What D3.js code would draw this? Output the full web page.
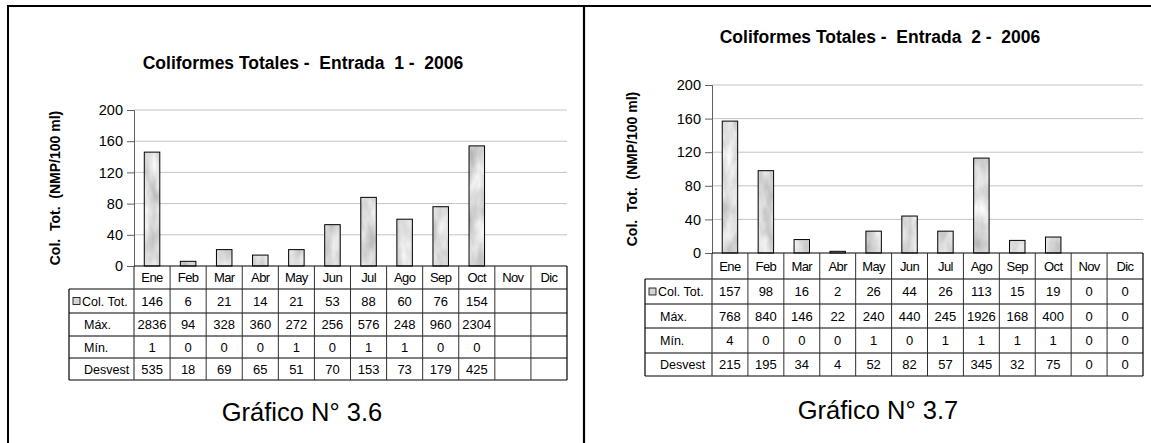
<!DOCTYPE html>
<html>
<head>
<meta charset="utf-8">
<script src="https://cdn.jsdelivr.net/npm/d3@7"></script>
<style>
  html, body { margin: 0; padding: 0; background: #fff; }
  svg { display: block; }
  text { font-family: "Liberation Sans", Arial, sans-serif; fill: #000; }
</style>
</head>
<body>
<svg id="chart" width="1151" height="443"></svg>
<script>
// ---------- DATA ----------
const months = ["Ene", "Feb", "Mar", "Abr", "May", "Jun", "Jul", "Ago", "Sep", "Oct", "Nov", "Dic"];
const yTicks = [0, 40, 80, 120, 160, 200];
const rowLabels = ["Col. Tot.", "Máx.", "Mín.", "Desvest"];
const yAxisTitle = "Col.  Tot.  (NMP/100 ml)";

const title1 = "Coliformes Totales -  Entrada  1 -  2006";
const caption1 = "Gráfico N° 3.6";
const colTot1 = [146, 6, 21, 14, 21, 53, 88, 60, 76, 154, null, null];
const max1 = [2836, 94, 328, 360, 272, 256, 576, 248, 960, 2304, null, null];
const min1 = [1, 0, 0, 0, 1, 0, 1, 1, 0, 0, null, null];
const desv1 = [535, 18, 69, 65, 51, 70, 153, 73, 179, 425, null, null];

const title2 = "Coliformes Totales -  Entrada  2 -  2006";
const caption2 = "Gráfico N° 3.7";
const colTot2 = [157, 98, 16, 2, 26, 44, 26, 113, 15, 19, 0, 0];
const max2 = [768, 840, 146, 22, 240, 440, 245, 1926, 168, 400, 0, 0];
const min2 = [4, 0, 0, 0, 1, 0, 1, 1, 1, 1, 0, 0];
const desv2 = [215, 195, 34, 4, 52, 82, 57, 345, 32, 75, 0, 0];

// ---------- DRAWING ----------
const svg = d3.select("#chart");
const defs = svg.append("defs");

// marbled grey texture for the bars
const f = defs.append("filter").attr("id", "marble")
  .attr("x", "0").attr("y", "0").attr("width", "1").attr("height", "1")
  .attr("color-interpolation-filters", "sRGB");
f.append("feTurbulence").attr("type", "fractalNoise")
  .attr("baseFrequency", "0.08 0.035").attr("numOctaves", 3).attr("seed", 4).attr("result", "noise");
f.append("feColorMatrix").attr("in", "noise").attr("type", "matrix")
  .attr("values", "0.35 0 0 0 0.68  0.35 0 0 0 0.68  0.35 0 0 0 0.68  0 0 0 0 1").attr("result", "grey");
f.append("feComposite").attr("in", "grey").attr("in2", "SourceGraphic").attr("operator", "in");

// outer frame
svg.append("line").attr("x1", 8).attr("x2", 1151).attr("y1", 6).attr("y2", 6)
  .attr("stroke", "#000").attr("stroke-width", 2);
svg.append("line").attr("x1", 8).attr("x2", 8).attr("y1", 5).attr("y2", 443)
  .attr("stroke", "#000").attr("stroke-width", 2);
svg.append("line").attr("x1", 584).attr("x2", 584).attr("y1", 5).attr("y2", 443)
  .attr("stroke", "#000").attr("stroke-width", 2.2);

function drawChart(cfg) {
  const g = svg.append("g");
  const x = d3.scaleBand().domain(months).range([cfg.axisX, cfg.rightX]).padding(0);
  const y = d3.scaleLinear().domain([0, 200]).range([cfg.y0, cfg.yTop]);
  const bw = x.bandwidth();

  // title
  g.append("text").attr("x", cfg.titleX).attr("y", cfg.titleY)
    .attr("text-anchor", "middle").attr("font-size", "17.5px").attr("font-weight", "bold")
    .style("white-space", "pre").text(cfg.title);

  // y-axis title
  g.append("text")
    .attr("transform", `translate(${cfg.yTitleX},${(cfg.y0 + cfg.yTop) / 2}) rotate(-90)`)
    .attr("text-anchor", "middle").attr("font-size", "14px").attr("font-weight", "bold")
    .style("white-space", "pre").text(yAxisTitle);

  // gridlines
  g.append("g").selectAll("line").data(yTicks.filter(d => d > 0)).join("line")
    .attr("x1", cfg.axisX).attr("x2", cfg.rightX)
    .attr("y1", d => y(d)).attr("y2", d => y(d))
    .attr("stroke", "#c4c4c4").attr("stroke-width", 1);

  // y axis
  const ax = g.append("g").attr("transform", `translate(${cfg.axisX},0)`)
    .call(d3.axisLeft(y).tickValues(yTicks).tickSize(7).tickPadding(4).tickFormat(d3.format("d")));
  ax.attr("font-size", null).attr("font-family", null);
  ax.select(".domain").attr("stroke", "#606060");
  ax.selectAll(".tick line").attr("stroke", "#606060");
  ax.selectAll(".tick text").style("font-size", "14.5px").attr("fill", "#000");

  // bars
  const barW = bw * 0.43;
  const bars = g.append("g");
  const vals = months.map((m, i) => ({ m, v: cfg.colTot[i] })).filter(d => d.v != null && d.v > 0);
  bars.selectAll("rect.fill").data(vals).join("rect").attr("class", "fill")
    .attr("x", d => x(d.m) + (bw - barW) / 2).attr("width", barW)
    .attr("y", d => y(d.v)).attr("height", d => y(0) - y(d.v))
    .attr("fill", "#ddd").attr("filter", "url(#marble)");
  bars.selectAll("rect.edge").data(vals).join("rect").attr("class", "edge")
    .attr("x", d => x(d.m) + (bw - barW) / 2).attr("width", barW)
    .attr("y", d => y(d.v)).attr("height", d => y(0) - y(d.v))
    .attr("fill", "none").attr("stroke", "#000").attr("stroke-width", 1);

  // table
  const rb = cfg.rows; // row boundaries
  const tl = cfg.tableLeft;
  const t = g.append("g");
  t.append("line").attr("x1", cfg.axisX).attr("x2", cfg.rightX).attr("y1", rb[0]).attr("y2", rb[0])
    .attr("stroke", "#000").attr("stroke-width", 1.2);
  for (let r = 1; r < rb.length; r++) {
    t.append("line").attr("x1", tl).attr("x2", cfg.rightX).attr("y1", rb[r]).attr("y2", rb[r])
      .attr("stroke", "#000").attr("stroke-width", r === rb.length - 1 ? 1.2 : 1);
  }
  t.append("line").attr("x1", tl).attr("x2", tl).attr("y1", rb[1]).attr("y2", rb[rb.length - 1])
    .attr("stroke", "#000").attr("stroke-width", 1.2);
  t.append("line").attr("x1", cfg.axisX).attr("x2", cfg.axisX).attr("y1", rb[0]).attr("y2", rb[rb.length - 1])
    .attr("stroke", "#404040").attr("stroke-width", 1.2);
  t.selectAll("line.v").data(months.slice(1)).join("line").attr("class", "v")
    .attr("x1", d => x(d)).attr("x2", d => x(d)).attr("y1", rb[0]).attr("y2", rb[rb.length - 1])
    .attr("stroke", "#303030").attr("stroke-width", 1);
  t.append("line").attr("x1", cfg.rightX).attr("x2", cfg.rightX).attr("y1", rb[0]).attr("y2", rb[rb.length - 1])
    .attr("stroke", "#000").attr("stroke-width", 1.2);

  // month labels
  t.selectAll("text.m").data(months).join("text").attr("class", "m")
    .attr("x", d => x(d) + bw / 2).attr("y", (rb[0] + rb[1]) / 2).attr("dy", "0.36em")
    .attr("text-anchor", "middle").attr("font-size", "13px").attr("letter-spacing", "-0.6px")
    .text(d => d);

  // row labels and values
  const rowsData = [cfg.colTot, cfg.max, cfg.min, cfg.desv];
  rowLabels.forEach((lab, r) => {
    const cy = (rb[r + 1] + rb[r + 2]) / 2;
    if (r === 0) {
      t.append("rect").attr("x", tl + 4).attr("y", cy - 3.5).attr("width", 7).attr("height", 7)
        .attr("fill", "#d4d4d4").attr("stroke", "#000").attr("stroke-width", 0.8);
    }
    t.append("text").attr("x", tl + (r === 0 ? 13 : 15)).attr("y", cy).attr("dy", "0.36em")
      .attr("font-size", "12.5px").text(lab);
    t.selectAll(null).data(months.map((m, i) => ({ m, v: rowsData[r][i] })).filter(d => d.v != null))
      .join("text")
      .attr("x", d => x(d.m) + bw / 2).attr("y", cy).attr("dy", "0.36em")
      .attr("text-anchor", "middle").attr("font-size", "13px")
      .text(d => d.v);
  });

  // caption
  g.append("text").attr("x", cfg.capX).attr("y", cfg.capY)
    .attr("text-anchor", "middle").attr("font-size", "25.5px").text(cfg.caption);
}

drawChart({
  title: title1, caption: caption1,
  colTot: colTot1, max: max1, min: min1, desv: desv1,
  axisX: 134, rightX: 567, yTop: 110, y0: 266,
  tableLeft: 69, rows: [266, 289, 313, 336, 358, 380],
  titleX: 303, titleY: 69, yTitleX: 59.5, capX: 302, capY: 421
});

drawChart({
  title: title2, caption: caption2,
  colTot: colTot2, max: max2, min: min2, desv: desv2,
  axisX: 712, rightX: 1143, yTop: 85, y0: 253,
  tableLeft: 645, rows: [253, 279, 304, 328, 353, 376],
  titleX: 880, titleY: 43, yTitleX: 637, capX: 878, capY: 419
});
</script>
</body>
</html>
